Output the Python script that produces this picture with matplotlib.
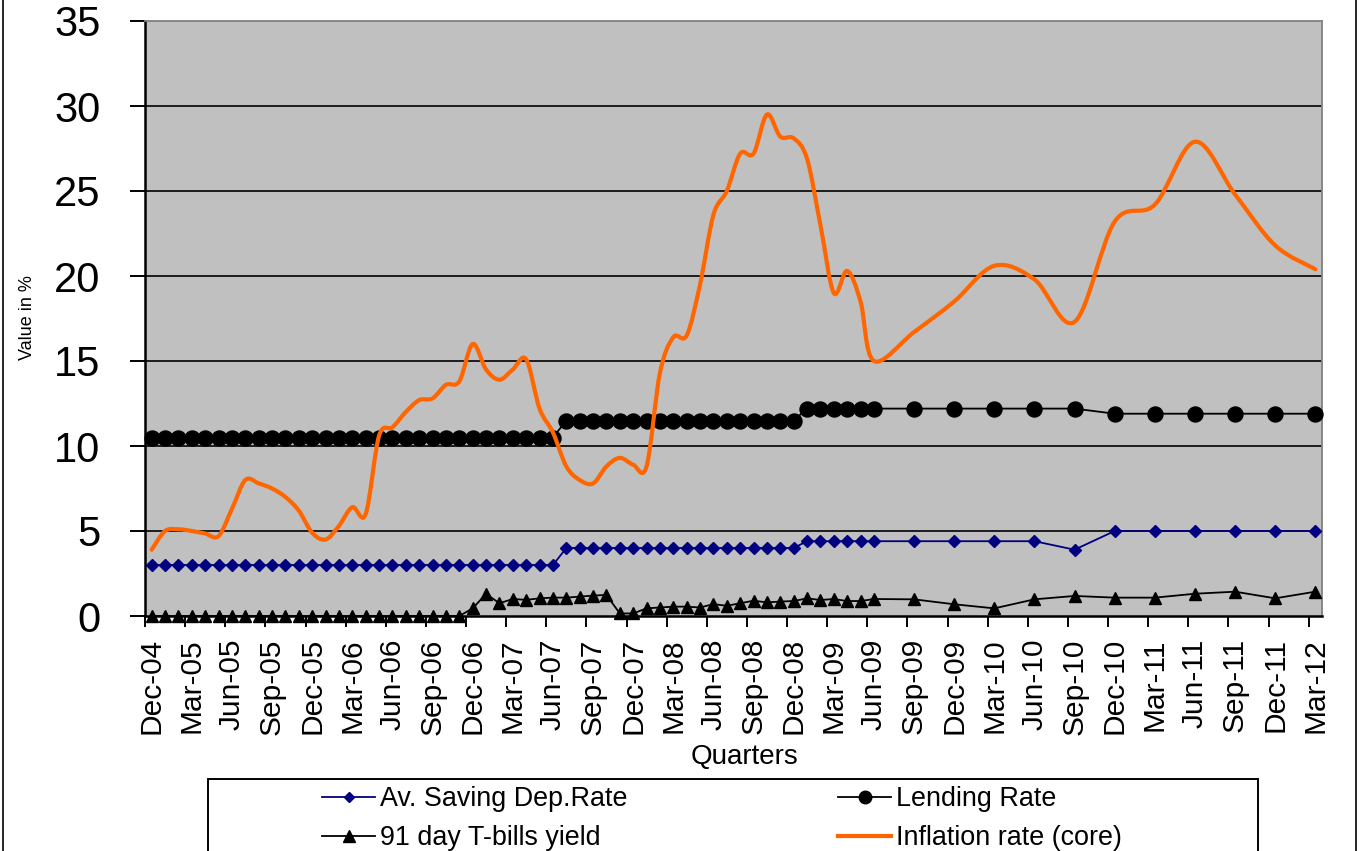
import matplotlib
matplotlib.use("Agg")
import matplotlib.pyplot as plt
from matplotlib.path import Path
from matplotlib.patches import PathPatch, Rectangle
from matplotlib.lines import Line2D
import numpy as np

plt.rcParams['font.family'] = ['Liberation Sans', 'DejaVu Sans']

# Observation months, counted from Dec-04 (0): monthly to Jun-09, quarterly afterwards
obs_month = list(range(0, 55)) + [57, 60, 63, 66, 69, 72, 75, 78, 81, 84, 87]

saving_rate = [3.0] * 31 + [4.0] * 18 + [4.4] * 6 + \
    [4.4, 4.4, 4.4, 4.4, 3.9, 5.0, 5.0, 5.0, 5.0, 5.0, 5.0]

lending_rate = [10.5] * 31 + [11.5] * 18 + [12.2] * 6 + \
    [12.2, 12.2, 12.2, 12.2, 12.2, 11.9, 11.9, 11.9, 11.9, 11.9, 11.9]

tbill_yield = [0.0] * 24 + [
    0.45, 1.3, 0.75, 1.0, 0.95, 1.04, 1.08, 1.08, 1.14, 1.2, 1.24,
    0.15, 0.15, 0.45, 0.5, 0.55, 0.55, 0.5, 0.7, 0.6, 0.75, 0.9,
    0.8, 0.85, 0.88, 1.04, 0.94, 1.0, 0.88, 0.88, 1.0,
    0.98, 0.69, 0.45, 0.98, 1.18, 1.08, 1.08, 1.31, 1.43, 1.04, 1.43]

inflation_core = [
    3.9, 5.0, 5.1, 5.0, 4.85, 4.7, 6.3, 8.0, 7.8, 7.5, 7.0, 6.2, 4.9,
    4.5, 5.3, 6.4, 6.0, 10.6, 11.1, 12.0, 12.7, 12.8, 13.6, 13.8,
    16.0, 14.5, 13.9, 14.5, 15.1, 12.2, 10.8, 8.8, 8.0, 7.8, 8.8, 9.3,
    8.9, 8.8, 14.3, 16.4, 16.5, 19.5, 23.6, 25.0, 27.2, 27.2, 29.5,
    28.2, 28.1, 26.9, 23.0, 19.0, 20.3, 18.5, 15.0,
    16.7, 18.5, 20.6, 19.8, 17.3, 23.2, 24.2, 27.9, 24.8, 21.8, 20.4]

quarter_labels = ['Dec-04', 'Mar-05', 'Jun-05', 'Sep-05', 'Dec-05', 'Mar-06',
                  'Jun-06', 'Sep-06', 'Dec-06', 'Mar-07', 'Jun-07', 'Sep-07',
                  'Dec-07', 'Mar-08', 'Jun-08', 'Sep-08', 'Dec-08', 'Mar-09',
                  'Jun-09', 'Sep-09', 'Dec-09', 'Mar-10', 'Jun-10', 'Sep-10',
                  'Dec-10', 'Mar-11', 'Jun-11', 'Sep-11', 'Dec-11', 'Mar-12']
quarter_pos = list(range(0, 88, 3))

series_names = ['Av. Saving Dep.Rate', 'Lending Rate',
                '91 day T-bills yield', 'Inflation rate (core)']

W, H = 1359, 851
fig = plt.figure(figsize=(W / 100, H / 100), dpi=100)
fig.patch.set_facecolor('white')

L, R, T, B = 145, 1322, 21, 616
ax = fig.add_axes([L / W, 1 - B / H, (R - L) / W, (B - T) / H])
ax.set_facecolor('#C0C0C0')
ax.set_xlim(-0.5, 87.5)
ax.set_ylim(0, 35)

# horizontal gridlines
for g in range(5, 35, 5):
    ax.axhline(g, color='black', lw=1.2, zorder=0.5)

x = np.array(obs_month, dtype=float)

ax.plot(x, saving_rate, color='#000080', lw=1.3, marker='D', ms=6.3,
        mfc='#000080', mec='#000080', zorder=3, clip_on=False)
ax.plot(x, lending_rate, color='black', lw=1.3, marker='o', ms=10.8,
        mfc='black', mec='black', zorder=3, clip_on=False)
ax.plot(x, tbill_yield, color='black', lw=1.3, marker='^', ms=9,
        mfc='black', mec='black', zorder=3, clip_on=False)


def smooth_path(xs, ys):
    """Cardinal (Catmull-Rom style) Bezier curve through the points."""
    pts = np.column_stack([xs, ys])
    n = len(pts)
    verts = [pts[0]]
    codes = [Path.MOVETO]
    for k in range(n - 1):
        p0 = pts[k - 1] if k > 0 else pts[k]
        p1 = pts[k]
        p2 = pts[k + 1]
        p3 = pts[k + 2] if k + 2 < n else pts[k + 1]
        c1 = p1 + (p2 - p0) / 6.0
        c2 = p2 - (p3 - p1) / 6.0
        verts += [c1, c2, p2]
        codes += [Path.CURVE4] * 3
    return Path(np.array(verts), codes)


ax.add_patch(PathPatch(smooth_path(x, inflation_core), fill=False,
                       edgecolor='#FF6600', lw=3.0, capstyle='round',
                       joinstyle='round', zorder=4))

# axes styling
for s in ['left', 'bottom']:
    ax.spines[s].set_color('black')
    ax.spines[s].set_linewidth(1.8)
for s in ['top', 'right']:
    ax.spines[s].set_color('#808080')
    ax.spines[s].set_linewidth(1.3)
for s in ax.spines.values():
    s.set_zorder(2)

ax.set_yticks(range(0, 36, 5))
ax.tick_params(axis='y', direction='out', length=11, width=1.4,
               labelsize=30, pad=21, colors='black')

ax.set_xticks([p - 0.5 for p in quarter_pos])
ax.set_xticklabels([])
ax.set_xticks(quarter_pos, minor=True)
ax.set_xticklabels(quarter_labels, minor=True, rotation=90)
ax.tick_params(axis='x', which='major', direction='out', length=8, width=1.4)
ax.tick_params(axis='x', which='minor', length=0, labelsize=21.5, pad=16)

fig.text(745 / W, 1 - 757 / H, 'Quarters', fontsize=20,
         ha='center', va='center')
fig.text(27 / W, 1 - 318 / H, 'Value in %', fontsize=13,
         rotation=90, ha='center', va='center')

# legend frame
fig.patches.append(Rectangle((208 / W, -0.05), (1258 - 208) / W,
                             0.05 + (851 - 779) / H, transform=fig.transFigure,
                             facecolor='white', edgecolor='black', lw=1.4,
                             zorder=1))

h_save = Line2D([], [], color='#000080', lw=1.3, marker='D', ms=5,
                mfc='#000080', mec='#000080')
h_lend = Line2D([], [], color='black', lw=1.3, marker='o', ms=9,
                mfc='black', mec='black')
h_tb = Line2D([], [], color='black', lw=1.3, marker='^', ms=8,
              mfc='black', mec='black')
h_inf = Line2D([], [], color='#FF6600', lw=3.0)

leg_kw = dict(loc='upper left', frameon=False, fontsize=19.4, borderpad=0,
              borderaxespad=0, handlelength=1.97, handletextpad=0.2,
              labelspacing=0.5)
top_y = 1 - 786 / H
lg1 = fig.legend([h_save, h_tb], [series_names[0], series_names[2]],
                 bbox_to_anchor=(322 / W, top_y), **leg_kw)
lg2 = fig.legend([h_lend, h_inf], [series_names[1], series_names[3]],
                 bbox_to_anchor=(838 / W, top_y), **leg_kw)
lg1.set_zorder(3)
lg2.set_zorder(3)

# outer chart border (left and right edges)
fig.add_artist(Line2D([2.5 / W, 2.5 / W], [0, 1], color='black', lw=1.2,
                      transform=fig.transFigure))
fig.add_artist(Line2D([1356 / W, 1356 / W], [0, 1], color='black', lw=1.2,
                      transform=fig.transFigure))

fig.savefig('out.png', dpi=100, facecolor='white')
